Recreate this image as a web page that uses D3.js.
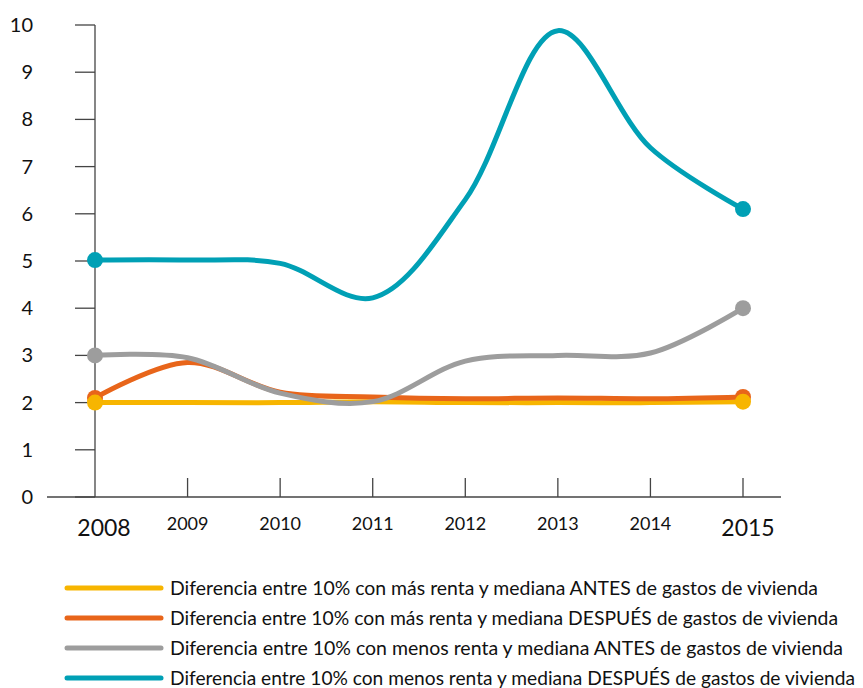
<!DOCTYPE html>
<html>
<head>
<meta charset="utf-8">
<script src="https://cdn.jsdelivr.net/npm/d3@7"></script>
<style>
body { margin: 0; background: #fff; }
text { font-family: Lato, "Open Sans", sans-serif; fill: #111; }
</style>
</head>
<body>
<div id="chart"></div>
<script>
var years = [2008, 2009, 2010, 2011, 2012, 2013, 2014, 2015];
var yTicks = [0, 1, 2, 3, 4, 5, 6, 7, 8, 9, 10];

var masAntes = [2, 2, 2, 2.02, 2, 2, 2, 2.02];
var masDespues = [2.1, 2.85, 2.22, 2.12, 2.08, 2.1, 2.08, 2.12];
var menosAntes = [3, 2.95, 2.2, 2.02, 2.88, 3, 3.05, 4];
var menosDespues = [5.02, 5.02, 4.95, 4.22, 6.3, 9.88, 7.4, 6.1];

var names = [
  "Diferencia entre 10% con más renta y mediana ANTES de gastos de vivienda",
  "Diferencia entre 10% con más renta y mediana DESPUÉS de gastos de vivienda",
  "Diferencia entre 10% con menos renta y mediana ANTES de gastos de vivienda",
  "Diferencia entre 10% con menos renta y mediana DESPUÉS de gastos de vivienda"
];
var colors = ["#f7b500", "#e8651a", "#9d9d9d", "#00a0b5"];
var series = [masAntes, masDespues, menosAntes, menosDespues];

var W = 863, H = 688;
var svg = d3.select("#chart").append("svg")
  .attr("width", W)
  .attr("height", H);

var x = d3.scalePoint().domain(years).range([95, 743]);
var y = d3.scaleLinear().domain([0, 10]).range([497, 25]);

// axes
svg.append("line")
  .attr("x1", 47).attr("x2", 781)
  .attr("y1", y(0)).attr("y2", y(0))
  .attr("stroke", "#444").attr("stroke-width", 1.3);
svg.append("line")
  .attr("x1", x(2008)).attr("x2", x(2008))
  .attr("y1", y(0)).attr("y2", y(10))
  .attr("stroke", "#444").attr("stroke-width", 1.3);

svg.selectAll(".ytick").data(yTicks).enter().append("line")
  .attr("x1", 75).attr("x2", x(2008))
  .attr("y1", function(d) { return y(d); })
  .attr("y2", function(d) { return y(d); })
  .attr("stroke", "#444").attr("stroke-width", 1.3);

svg.selectAll(".ylab").data(yTicks).enter().append("text")
  .attr("x", 33)
  .attr("y", function(d) { return y(d) + 7; })
  .attr("text-anchor", "end")
  .style("font-size", "20px")
  .text(function(d) { return d; });

svg.selectAll(".xtick").data(years.slice(1)).enter().append("line")
  .attr("x1", function(d) { return x(d); })
  .attr("x2", function(d) { return x(d); })
  .attr("y1", y(0) - 19).attr("y2", y(0))
  .attr("stroke", "#444").attr("stroke-width", 1.3);

// first and last year are written bigger
var big = function(i) { return i == 0 || i == years.length - 1; };
svg.selectAll(".xlab").data(years).enter().append("text")
  .attr("x", function(d, i) { return x(d) + (i == 0 ? 9 : (big(i) ? 5 : 0)); })
  .attr("y", function(d, i) { return big(i) ? 536 : 530; })
  .attr("text-anchor", "middle")
  .style("font-size", function(d, i) { return big(i) ? "23px" : "18px"; })
  .text(function(d) { return d; });

// lines
var line = d3.line()
  .x(function(d, i) { return x(years[i]); })
  .y(function(d) { return y(d); })
  .curve(d3.curveCatmullRom.alpha(0.5));

series.forEach(function(s, k) {
  svg.append("path")
    .attr("d", line(s))
    .attr("fill", "none")
    .attr("stroke", colors[k])
    .attr("stroke-width", 5)
    .attr("stroke-linecap", "round")
    .attr("stroke-linejoin", "round");
});

// end markers
[1, 2, 3, 0].forEach(function(k) {
  [0, years.length - 1].forEach(function(i) {
    svg.append("circle")
      .attr("cx", x(years[i]))
      .attr("cy", y(series[k][i]))
      .attr("r", 8)
      .attr("fill", colors[k]);
  });
});

// legend
var legY = [588, 618, 648, 678];
var legW = [648, 668, 673, 685];
names.forEach(function(n, k) {
  svg.append("line")
    .attr("x1", 67).attr("x2", 161)
    .attr("y1", legY[k]).attr("y2", legY[k])
    .attr("stroke", colors[k])
    .attr("stroke-width", 5)
    .attr("stroke-linecap", "round");
  svg.append("text")
    .attr("x", 170)
    .attr("y", legY[k] + 7)
    .attr("textLength", legW[k])
    .attr("lengthAdjust", "spacingAndGlyphs")
    .style("font-size", "19px")
    .text(n);
});
</script>
</body>
</html>
